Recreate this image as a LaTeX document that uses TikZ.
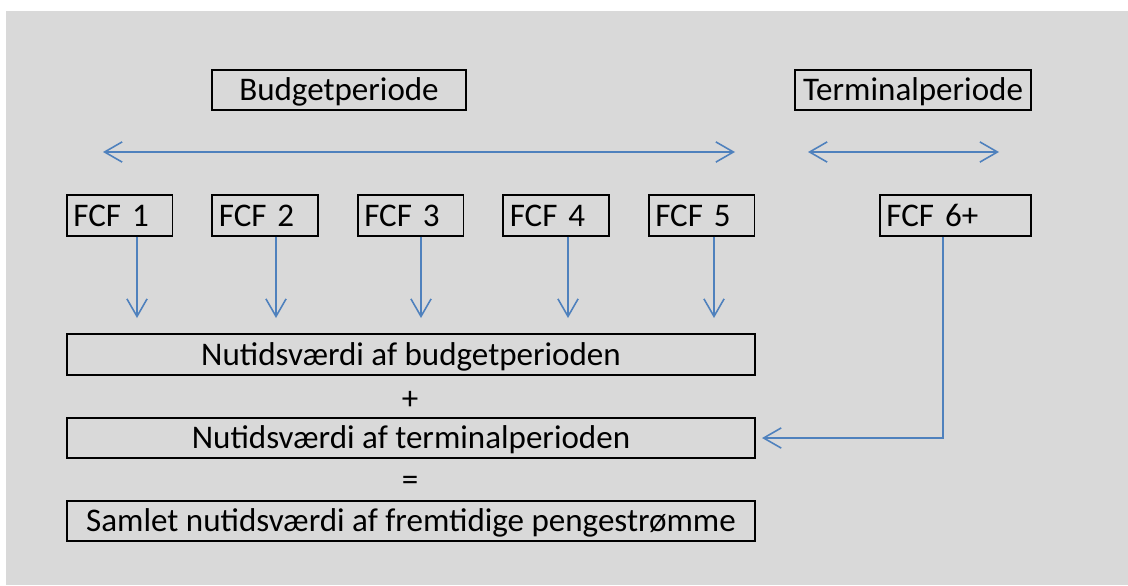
\documentclass[tikz,border=0pt]{standalone}
\usepackage{fontspec}
\setmainfont{Carlito}
\usetikzlibrary{arrows.meta, positioning}
\definecolor{bggray}{RGB}{217,217,217}
\definecolor{flowblue}{RGB}{79,129,189}

\begin{document}
\begin{tikzpicture}[x=0.02cm, y=-0.02cm, node distance=0.76cm,
  >={Straight Barb[length=10pt, width=11.5pt]},
  font=\fontsize{18.8}{22}\selectfont,
  box/.style={draw, rectangle, line width=1pt, minimum height=0.81cm, inner sep=0pt,
    text height=14pt, text depth=1.5pt},
  fcfbox/.style={box, minimum width=2.115cm, text width=1.855cm, inner xsep=0.13cm, align=left},
  wide/.style={box, minimum width=13.77cm},
  flow/.style={->, flowblue, line width=0.9pt}]
% Background
\fill[bggray] (6,11) rectangle (1128,585);
\useasboundingbox (0,0) rectangle (1128,585);

% Periods
\node[box, minimum width=5.09cm] (budget) at (339,90) {Budgetperiode};
\node[box, minimum width=4.73cm] (terminal) at (913,90) {Terminalperiode};

\coordinate (bl) at (103,152);
\coordinate (br) at (735,152);
\coordinate (tl) at (808,152);
\coordinate (tr) at (999,152);
\draw[flow, <->] (bl) -- (br);
\draw[flow, <->] (tl) -- (tr);

% Free cash flows
\node[fcfbox, anchor=west] (fcf1) at (66,215.5) {FCF 1};
\node[fcfbox, right=of fcf1] (fcf2) {FCF 2};
\node[fcfbox, right=of fcf2] (fcf3) {FCF 3};
\node[fcfbox, right=of fcf3] (fcf4) {FCF 4};
\node[fcfbox, right=of fcf4] (fcf5) {FCF 5};
\node[fcfbox, anchor=west, minimum width=3.025cm, text width=2.765cm] (fcf6) at (879,215.5) {FCF 6+};

% Present values
\node[wide] (pvbudget) at (411,354.5) {Nutidsværdi af budgetperioden};
\node (plus) at (410,400) {+};
\node[wide] (pvterminal) at (411,438) {Nutidsværdi af terminalperioden};
\node (equals) at (410,483) {=};
\node[wide] (pvtotal) at (411,521) {Samlet nutidsværdi af fremtidige pengestrømme};

% Discounting arrows
\coordinate (d1) at (137,318);
\coordinate (d2) at (276,318);
\coordinate (d3) at (421,318);
\coordinate (d4) at (568,318);
\coordinate (d5) at (714,318);
\coordinate (d6) at (943,318);
\draw[flow] (fcf1.south -| d1) -- (d1);
\draw[flow] (fcf2.south -| d2) -- (d2);
\draw[flow] (fcf3.south -| d3) -- (d3);
\draw[flow] (fcf4.south -| d4) -- (d4);
\draw[flow] (fcf5.south -| d5) -- (d5);
\draw[flow] (fcf6.south -| d6) |- ([xshift=0.12cm]pvterminal.east);
\end{tikzpicture}
\end{document}
